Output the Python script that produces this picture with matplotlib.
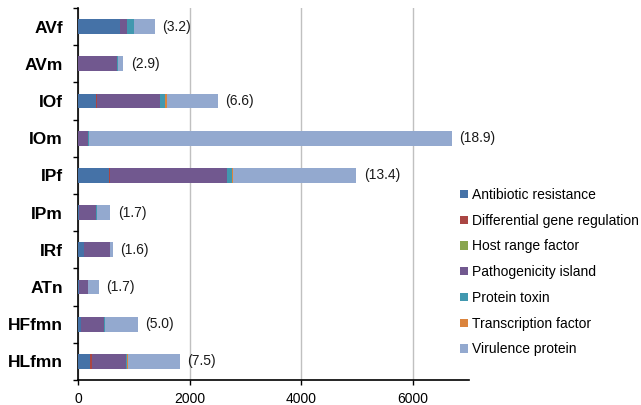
import numpy as np
import matplotlib
matplotlib.use('Agg')
import matplotlib.pyplot as plt

plt.rcParams['font.family'] = ['Liberation Sans', 'DejaVu Sans']

# Strains, top to bottom
strains = ['AVf', 'AVm', 'IOf', 'IOm', 'IPf', 'IPm', 'IRf', 'ATn', 'HFfmn', 'HLfmn']
ratio_labels = ['(3.2)', '(2.9)', '(6.6)', '(18.9)', '(13.4)', '(1.7)', '(1.6)', '(1.7)', '(5.0)', '(7.5)']

# Counts per virulence category (same order as strains)
antibiotic_resistance = [757, 0, 328, 0, 554, 25, 113, 12, 60, 207]
differential_gene_reg = [0, 0, 10, 0, 10, 0, 0, 0, 0, 40]
host_range_factor = [0, 0, 0, 0, 0, 0, 0, 8, 0, 10]
pathogenicity_island = [125, 698, 1133, 179, 2095, 290, 464, 160, 405, 600]
protein_toxin = [125, 10, 90, 15, 90, 25, 0, 0, 18, 20]
transcription_factor = [0, 0, 25, 0, 28, 0, 0, 0, 0, 20]
virulence_protein = [364, 100, 918, 6500, 2200, 240, 48, 190, 583, 925]

series = [
    ('Antibiotic resistance', antibiotic_resistance, '#4572A7'),
    ('Differential gene regulation', differential_gene_reg, '#AA4643'),
    ('Host range factor', host_range_factor, '#89A54E'),
    ('Pathogenicity island', pathogenicity_island, '#71588F'),
    ('Protein toxin', protein_toxin, '#4198AF'),
    ('Transcription factor', transcription_factor, '#DB843D'),
    ('Virulence protein', virulence_protein, '#93A9CF'),
]

fig = plt.figure(figsize=(6.41, 4.05), dpi=100)
ax = fig.add_axes([78 / 641, 25 / 405, (469 - 78) / 641, (380 - 8) / 405])

y = np.arange(len(strains))
left = np.zeros(len(strains))
for name, vals, col in series:
    vals = np.array(vals, dtype=float)
    ax.barh(y, vals, left=left, height=0.4, color=col, label=name,
            edgecolor='none', zorder=3)
    left += vals

# ratio labels at the end of each bar
for yi, tot, lab in zip(y, left, ratio_labels):
    ax.annotate(lab, (tot, yi), xytext=(5.5, 0), textcoords='offset points',
                va='center', ha='left', fontsize=10, color='#1a1a1a')

ax.set_xlim(0, 7000)
ax.set_ylim(len(strains) - 0.5, -0.5)
ax.set_xticks([0, 2000, 4000, 6000])
ax.xaxis.grid(True, color='#C0C0C0', linewidth=1, zorder=0)
ax.set_axisbelow(True)

ax.set_yticks(y)
ax.set_yticklabels(strains, fontsize=12.5, fontweight='bold')
ax.set_yticks(np.arange(-0.5, len(strains)), minor=True)
ax.tick_params(axis='y', which='major', length=0, pad=11)
ax.tick_params(axis='y', which='minor', length=3.5, width=1, direction='out')
ax.tick_params(axis='x', length=3.5, width=1, direction='out', labelsize=10, pad=5)

for s in ['top', 'right']:
    ax.spines[s].set_visible(False)
ax.spines['left'].set_linewidth(1.2)
ax.spines['bottom'].set_linewidth(1.2)

fig.legend(loc='upper left', bbox_to_anchor=(460 / 641, (405 - 188) / 405),
           frameon=False, fontsize=10, handlelength=0.55, handleheight=0.55,
           handletextpad=0.3, labelspacing=0.845, borderpad=0, borderaxespad=0)

fig.savefig('out.png', dpi=100)
